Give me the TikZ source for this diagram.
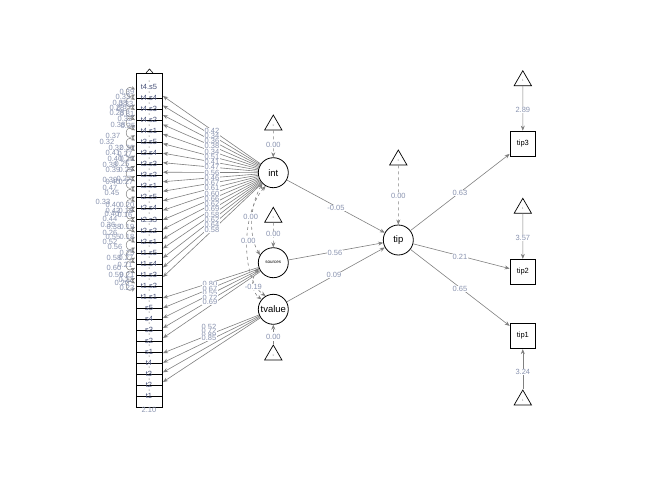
\documentclass[tikz,border=0pt]{standalone}
\usepackage{fontspec}
\setmainfont{Liberation Sans}
\usetikzlibrary{shapes.geometric,arrows.meta}
\definecolor{edgec}{RGB}{128,128,128}
\definecolor{labc}{RGB}{138,148,176}
\definecolor{rowc}{RGB}{70,80,120}
\begin{document}
\begin{tikzpicture}[x=1pt,y=-1pt,
  lat/.style={circle,draw,line width=0.8pt,minimum size=30pt,inner sep=0pt,font=\fontsize{9.5}{10}\selectfont},
  man/.style={rectangle,draw,line width=0.8pt,minimum size=25.5pt,inner sep=0pt,font=\fontsize{7.5}{8}\selectfont},
  tri/.style={regular polygon,regular polygon sides=3,draw,line width=0.7pt,minimum size=20pt,inner sep=0pt,font=\fontsize{3}{3}\selectfont,text=edgec},
  pth/.style={draw=edgec,line width=0.6pt,-{Stealth[length=5pt,width=4pt]}},
  cov/.style={draw=edgec,line width=0.6pt,dashed,{Stealth[length=5pt,width=4pt]}-{Stealth[length=5pt,width=4pt]}},
  resid/.style={draw=edgec,line width=0.5pt,{Stealth[length=4pt,width=3.5pt]}-{Stealth[length=4pt,width=3.5pt]}},
  lab/.style={text=labc,font=\fontsize{7.5}{8}\selectfont,fill=white,inner sep=0.4pt},
  rlab/.style={text=labc,font=\fontsize{7.5}{8}\selectfont,inner sep=0.4pt},
  rowlab/.style={text=rowc,font=\fontsize{7.5}{8}\selectfont,inner sep=0pt},
  one/.style={text=edgec,font=\fontsize{3}{3}\selectfont,inner sep=0pt}
]
\useasboundingbox (0,0) rectangle (672,480);

% latent nodes
\node[lat] (int) at (273.3,172.7) {int};
\node[lat,font=\fontsize{4.5}{5}\selectfont] (sources) at (273.3,262.7) {sources};
\node[lat] (tvalue) at (273.3,309.3) {tvalue};
\node[lat] (tip) at (398.3,240) {tip};

% manifest tip boxes
\node[man] (tip3) at (522.8,143.8) {tip3};
\node[man] (tip2) at (522.8,272) {tip2};
\node[man] (tip1) at (522.8,336) {tip1};

% intercept triangles
\node[tri] (tint) at (273.3,125) {1};
\node[tri] (tsrc) at (273.3,217.3) {1};
\node[tri] (ttv) at (273.3,355) {1};
\node[tri] (ttip) at (398.3,160) {1};
\node[tri] (ttip3) at (522.8,80.7) {1};
\node[tri] (ttip2) at (522.8,208.3) {1};
\node[tri] (ttip1) at (522.8,400) {1};

% residual loops on the left of the column
\foreach \i in {0,...,19}{
  \pgfmathsetmacro\yr{92+10.2*\i}
  \coordinate (la\i) at (135,\yr-2.5);
  \coordinate (lb\i) at (135,\yr+2.5);
  \draw[resid] (la\i) .. controls +(-11,-6) and +(-11,6) .. (lb\i);
}

% column of indicators
\draw[line width=0.8pt,fill=white] (136,73) rectangle (162,407);
\draw[line width=0.6pt] (146,73) -- (149.5,69) -- (153,73);
\foreach \n [count=\i from 0] in {t4.s5,t4.s4,t4.s3,t4.s2,t4.s1,t3.s5,t3.s4,t3.s3,t3.s2,t3.s1,t2.s5,t2.s4,t2.s3,t2.s2,t2.s1,t1.s5,t1.s4,t1.s3,t1.s2,t1.s1,s5,s4,s3,s2,s1,t4,t3,t2,t1}{
  \pgfmathsetmacro\yr{87+11.036*\i}
  \ifnum\i>0 \draw[line width=0.9pt] (136,\yr+0.5) -- (162,\yr+0.5);\fi
  \node[one] at (149.3,\yr-6) {1};
  \node[rowlab] (r\i) at (149,\yr) {\n};
}
\node[rlab] (resb) at (149,410) {2.10};

% loadings
\foreach \k in {0,...,19}{
  \pgfmathsetmacro\ye{96+9.526*\k}
  \coordinate (ei\k) at (163,\ye);
  \draw[pth] (int) -- (ei\k);
}
\foreach \k in {0,...,4}{
  \pgfmathsetmacro\ye{298+10*\k}
  \coordinate (es\k) at (163,\ye);
  \draw[pth] (sources) -- (es\k);
}
\foreach \k in {0,...,3}{
  \pgfmathsetmacro\ye{353+9.67*\k}
  \coordinate (et\k) at (163,\ye);
  \draw[pth] (tvalue) -- (et\k);
}
\foreach \v [count=\k from 0] in {0.42,0.34,0.36,0.38,0.34,0.51,0.41,0.47,0.56,0.46,0.67,0.61,0.60,0.66,0.62,0.69,0.58,0.62,0.64,0.58}{
  \pgfmathsetmacro\yl{173+0.55*(96+9.526*\k-173)}
  \node[lab] at (212,\yl) {\v};
}
\foreach \v [count=\k from 0] in {0.80,0.67,0.55,0.72,0.69}{
  \pgfmathsetmacro\yl{284+4.5*\k}
  \node[lab] at (210,\yl) {\v};
}
\foreach \v [count=\k from 0] in {0.52,0.72,0.89,0.85}{
  \pgfmathsetmacro\yl{327+3.8*\k}
  \node[lab] at (209,\yl) {\v};
}

% residual labels (crowded)
\foreach \x/\y/\v in {127/92/0.39,123/97/0.33,120/103/0.38,126/104/0.33,117/108/0.28,124/109/0.37,117/113/0.28,127/114/0.81,125/119/0.32,118/125/0.38,128/126/0.35,113/136/0.37,107/142/0.32,116/148/0.32,127/148/0.30,113/153/0.41,125/154/0.27,115/159/0.40,127/159/0.25,110/165/0.38,122/164/0.25,113/170/0.39,126/170/0.25,110/180/0.39,124/179/0.27,113/182/0.40,126/182/0.27,110/188/0.47,112/193/0.45,103/202/0.33,113/205/0.40,127/205/0.20,113/211/0.42,126/211/0.18,112/214/0.40,125/215/0.16,110/219/0.44,108/225/0.36,114/227/0.38,127/227/0.19,110/233/0.26,113/237/0.55,127/237/0.18,110/242/0.52,115/247/0.56,127/253/0.25,114/258/0.58,126/258/0.27,125/265/0.21,114/268/0.60,116/275/0.59,127/275/0.21,126/280/0.22,122/283/0.20,127/288/0.23}{
  \node[rlab] at (\x,\y) {\v};
}

% covariances
\draw[cov] (int.225) .. controls (250,205) and (248,235) .. (sources.150);
\draw[cov] (int.240) .. controls (240,215) and (242,280) .. (tvalue.120);
\draw[cov] (sources.200) .. controls (250,280) and (252,292) .. (tvalue.140);
\node[lab] at (250.7,216.7) {0.00};
\node[lab] at (248.3,240.7) {0.00};
\node[lab] at (253.3,287.3) {-0.19};

% intercepts of latents
\draw[pth,dashed] (tint.south) -- (int);
\draw[pth,dashed] (tsrc.south) -- (sources);
\draw[pth,dashed] (ttv.north) -- (tvalue);
\draw[pth,dashed] (ttip.south) -- (tip);
\node[lab] at (273.3,144.7) {0.00};
\node[lab] at (273.3,234.3) {0.00};
\node[lab] at (273.3,337.3) {0.00};
\node[lab] at (398.3,196) {0.00};

% structural paths
\draw[pth] (int) -- (tip);
\draw[pth] (sources) -- (tip);
\draw[pth] (tvalue) -- (tip);
\node[lab] at (336,208) {-0.05};
\node[lab] at (335,253) {0.56};
\node[lab] at (334,275) {0.09};

% tip indicators
\draw[pth] (tip) -- (tip3);
\draw[pth] (tip) -- (tip2);
\draw[pth] (tip) -- (tip1);
\node[lab] at (460,193.3) {0.63};
\node[lab] at (460,257.3) {0.21};
\node[lab] at (460,289.3) {0.65};

\draw[pth] (ttip3.south) -- (tip3);
\draw[pth] (ttip2.south) -- (tip2);
\draw[pth] (ttip1.north) -- (tip1);
\node[lab] at (522.8,110) {2.89};
\node[lab] at (522.8,238.3) {3.57};
\node[lab] at (522.8,372.3) {3.24};
\end{tikzpicture}
\end{document}
